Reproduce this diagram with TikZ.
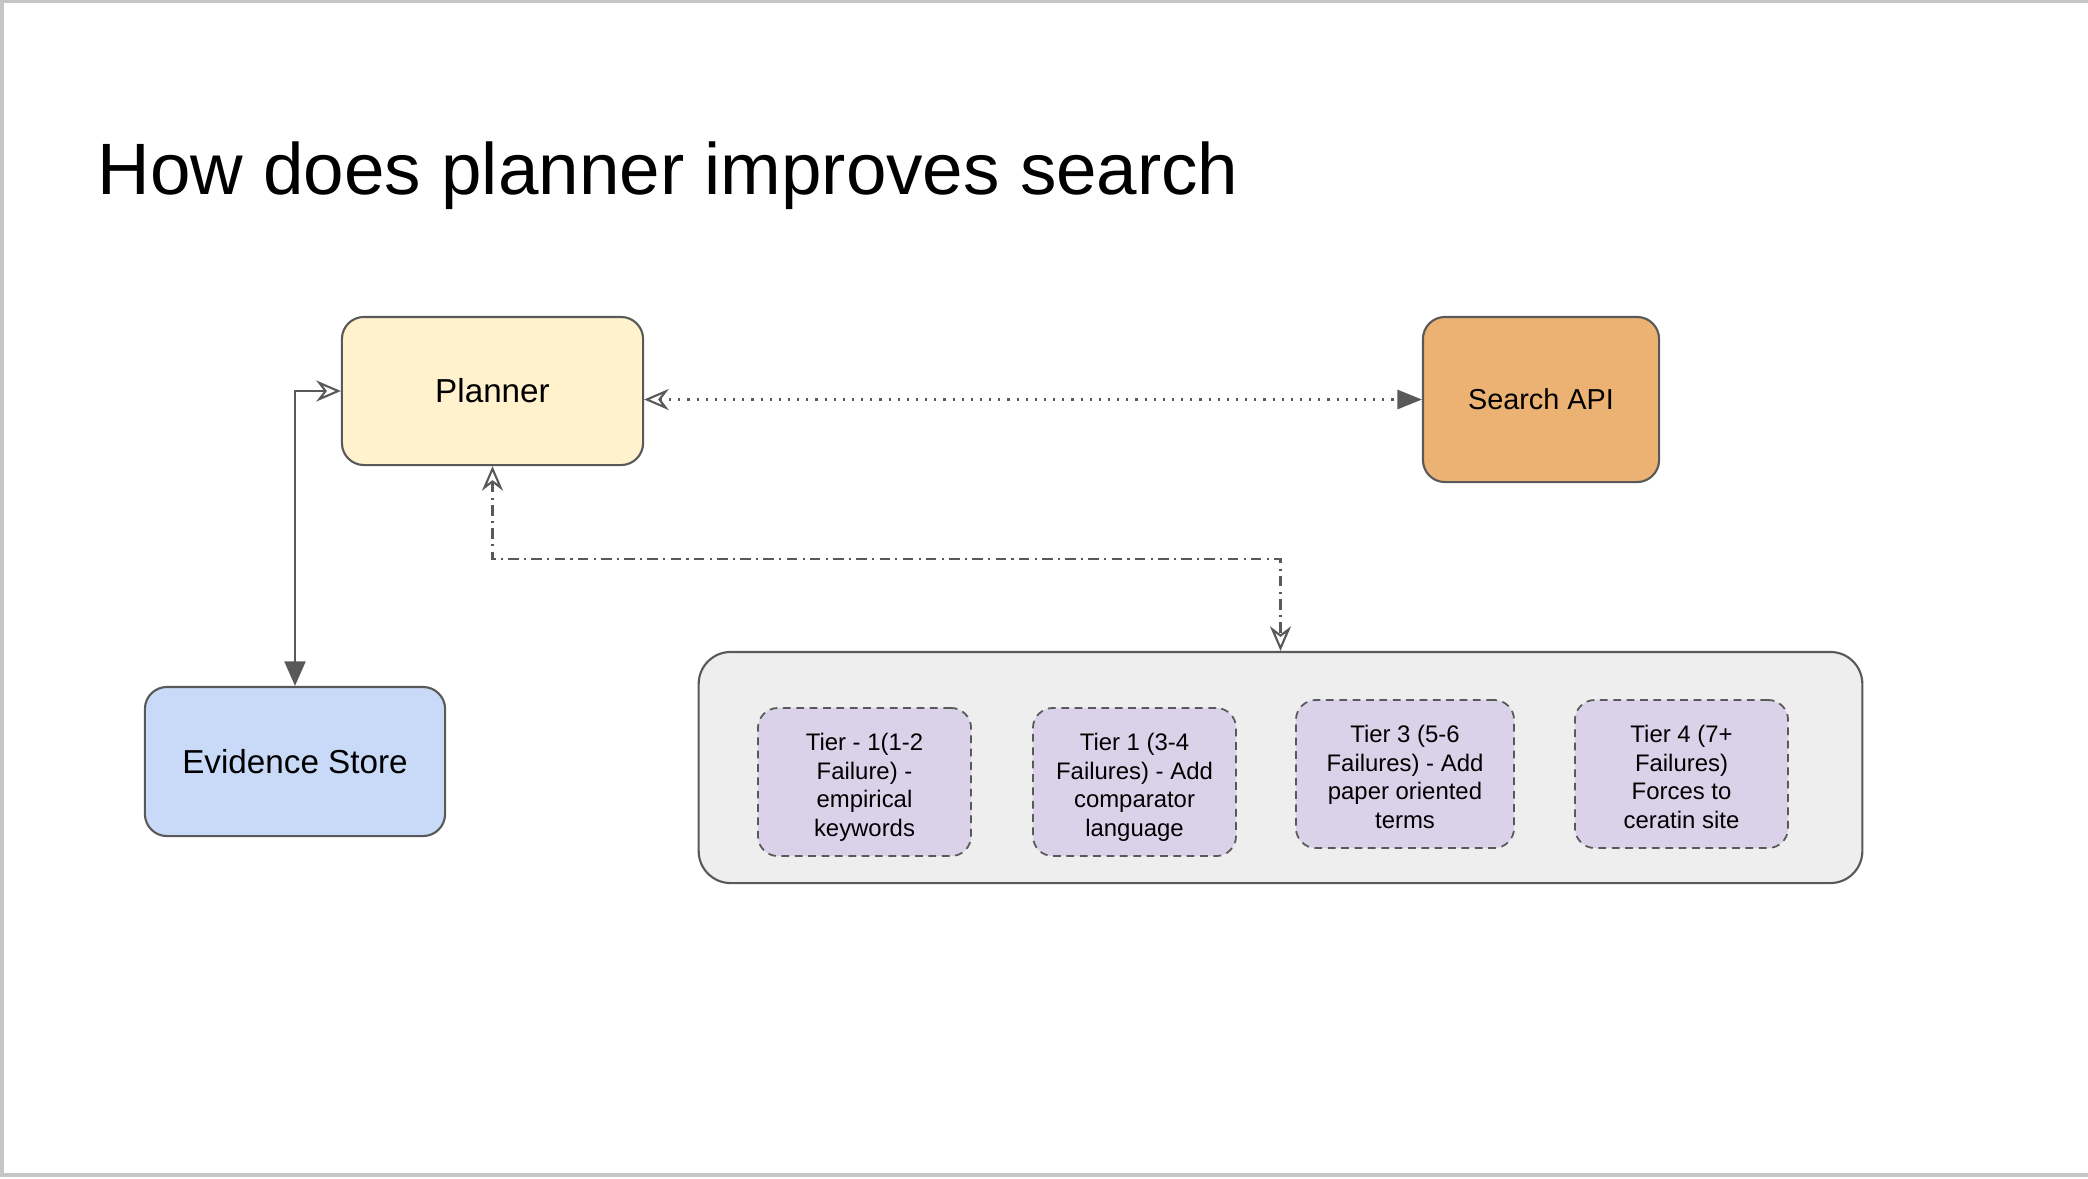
\documentclass[tikz,border=0pt]{standalone}
\usepackage{fontspec}
\setmainfont{Liberation Sans}
\usepackage{tikz}
\usetikzlibrary{shapes.geometric, positioning, arrows.meta, calc}
\definecolor{edge}{HTML}{595959}
\definecolor{plannerfill}{HTML}{FFF2CC}
\definecolor{apifill}{HTML}{EBB273}
\definecolor{storefill}{HTML}{C9DAF8}
\definecolor{tierfill}{HTML}{D9D2E9}
\definecolor{groupfill}{HTML}{EEEEEE}
\definecolor{frame}{HTML}{C6C6C6}
\newcommand{\tiertop}{\rule{0pt}{8pt}}
\newcommand{\tierbot}{\rule[-1.4pt]{0pt}{1.4pt}}
\tikzset{
  block/.style={rectangle, rounded corners=0.22cm, draw=edge, line width=0.6pt, text centered, inner sep=0pt, font=\fontsize{9.45}{11}\selectfont},
  group/.style={rectangle, rounded corners=0.32cm, draw=edge, line width=0.6pt, fill=groupfill, minimum width=11.63cm, minimum height=2.31cm},
  tier/.style={rectangle, rounded corners=0.2cm, draw=edge, dashed, dash pattern=on 2.2pt off 1.6pt, line width=0.5pt, fill=tierfill, minimum height=1.48cm, align=center, inner sep=0pt, font=\fontsize{6.8}{8.1}\selectfont},
  arrow/.style={edge, line width=0.6pt}
}
\begin{document}
\begin{tikzpicture}[x=0.01cm, y=-0.01cm]
        \useasboundingbox (0,0) rectangle (2088,1178);
        \draw[frame, line width=1.2pt] (2088,1) -- (1.5,1) -- (1.5,1175) -- (2088,1175);
        \node (title) [anchor=base west, inner sep=0pt, font=\fontsize{20.7}{24}\selectfont] at (97,194) {How does planner improves search};

        \node (planner) [block, fill=plannerfill, minimum width=3.01cm, minimum height=1.48cm] at (492.5,391) {Planner};
        \node (search) [block, fill=apifill, minimum width=2.36cm, minimum height=1.65cm, font=\fontsize{8.2}{10}\selectfont] at (1541,399.5) {Search API};
        \node (evidence) [block, fill=storefill, minimum width=3.00cm, minimum height=1.49cm] at (295,761.5) {Evidence Store};

        \node (tiers) [group] at (1280.5,767.5) {};
        \node (tier1) [tier, minimum width=2.13cm] at (864.5,782) {\tiertop Tier - 1(1-2\\Failure) -\\empirical\\keywords\tierbot};
        \node (tier2) [tier, minimum width=2.03cm] at (1134.5,782) {\tiertop Tier 1 (3-4\\Failures) - Add\\comparator\\language\tierbot};
        \node (tier3) [tier, minimum width=2.18cm] at (1405,774) {\tiertop Tier 3 (5-6\\Failures) - Add\\paper oriented\\terms\tierbot};
        \node (tier4) [tier, minimum width=2.13cm] at (1681.5,774) {\tiertop Tier 4 (7+\\Failures)\\Forces to\\ceratin site\tierbot};

        \draw [arrow, {Stealth[open, length=7pt, width=6pt]}-{Triangle[length=7pt, width=6pt]}] (planner.west) -| (evidence.north);
        \draw [arrow, dotted, {Stealth[open, length=7pt, width=6pt]}-{Triangle[length=7pt, width=5.5pt]}] (planner.east |- search.west) -- (search.west);
        \draw [arrow, dash pattern=on 3pt off 1.5pt on 0.6pt off 1.5pt, {Stealth[open, length=7pt, width=6pt]}-{Stealth[open, length=7pt, width=6pt]}] (planner.south) -- ++(0,93) -| (tiers.north);

    \end{tikzpicture}
\end{document}
